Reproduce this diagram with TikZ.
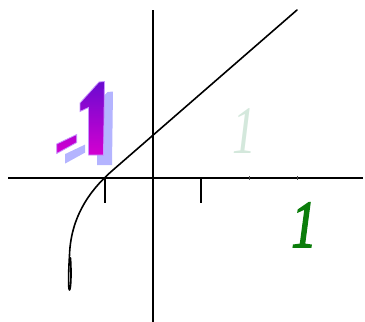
\documentclass[tikz,border=0pt]{standalone}
\usepackage{fontspec}
\setmainfont{Liberation Serif}
\newfontfamily\boldish[FakeBold=2.5]{Liberation Serif Italic}
\definecolor{fadegreen}{HTML}{D4E8DC}
\definecolor{darkgreen}{HTML}{0B7D0B}
\definecolor{lavshadow}{HTML}{B4B4FF}
\definecolor{violetedge}{HTML}{C896FF}
\definecolor{topviolet}{HTML}{6A0AD0}
\definecolor{botmagenta}{HTML}{D400D0}
\definecolor{minustop}{HTML}{B400D0}
\tikzset{
  axis/.style={line width=1.6pt, black},
  curvestyle/.style={line width=1.6pt, black, line cap=round, line join=round},
  smalltick/.style={line width=1pt, black!70},
  shadowpart/.style={fill=lavshadow, draw=none},
  frontpart/.style={draw=violetedge, line width=0.8pt, top color=topviolet, bottom color=botmagenta},
  bigone/.style={inner sep=0pt, anchor=base}
}
\begin{document}
\begin{tikzpicture}[x=1pt,y=-1pt]
\useasboundingbox (0,0) rectangle (365,322);
% axes
\draw[axis] (8,178) -- (363,178);
\draw[axis] (153,10) -- (153,322);
% ticks
\draw[axis] (105,178) -- (105,203);
\draw[axis] (201,178) -- (201,203);
\draw[smalltick] (249,176) -- (249,180);
\draw[smalltick] (297,176) -- (297,180);
% "-1" shadow
\begin{scope}[shift={(8.5,10)}]
\path[shadowpart] (99,82) -- (104.5,81.5) -- (103.5,155) -- (88.5,155) -- (88.5,107.5) -- (80,111.5) -- (80,103) -- cycle;
\path[shadowpart] (56.7,144) -- (76.7,134.5) -- (76.7,142.5) -- (56.7,153.5) -- cycle;
\end{scope}
% "-1" front
\path[frontpart] (99,82) -- (104.5,81.5) -- (103.5,155) -- (88.5,155) -- (88.5,107.5) -- (80,111.5) -- (80,103) -- cycle;
\path[frontpart, top color=minustop] (56.7,144) -- (76.7,134.5) -- (76.7,142.5) -- (56.7,153.5) -- cycle;
% curve
\draw[curvestyle] (297,10) -- (113,170) .. controls (95,185.6) and (71,212) .. (69.5,255)
  .. controls (68.5,272) and (68,289) .. (69.5,290) .. controls (71,289) and (71.5,272) .. (70.5,258);
% labels
\node[bigone, text=fadegreen] (fadeone) at (244,153) {\scalebox{0.7}[1]{\fontsize{68}{68}\selectfont\itshape 1}};
\node[bigone, text=darkgreen] (greenone) at (304,247) {\scalebox{0.75}[1]{\fontsize{67}{67}\selectfont\boldish 1}};
\end{tikzpicture}
\end{document}
